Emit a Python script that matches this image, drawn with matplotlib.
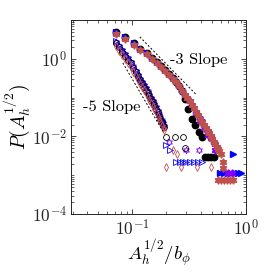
import numpy as np
import matplotlib
matplotlib.use("Agg")
import matplotlib.pyplot as plt
from matplotlib.ticker import LogLocator, NullFormatter, FixedLocator

plt.rcParams['mathtext.fontset'] = 'cm'
plt.rcParams['font.family'] = ['cmr10', 'DejaVu Serif']
plt.rcParams['axes.formatter.use_mathtext'] = True

# ---- shallow group (filled markers) ----
sh_x = [0.072, 0.087, 0.103, 0.118, 0.134, 0.149, 0.165, 0.180, 0.196, 0.212,
        0.227, 0.243, 0.258, 0.274, 0.289, 0.305, 0.320, 0.336, 0.351, 0.367,
        0.382, 0.398, 0.413, 0.429, 0.444, 0.460, 0.475, 0.490, 0.506, 0.522,
        0.537, 0.553, 0.568, 0.584, 0.600]
sh_blue = [4.8, 3.6, 2.55, 1.80, 1.40, 1.08, 0.84, 0.66, 0.52, 0.41,
           0.34, 0.27, 0.21, 0.165, 0.128, 0.105, 0.086, 0.069, 0.057, 0.046,
           0.038, 0.031, 0.026, 0.021, 0.018, 0.015, 0.0128, 0.0110, 0.0093, 0.0078,
           0.0067, 0.0057, np.nan, np.nan, np.nan]
sh_red = [4.4, 3.3, 2.35, 1.70, 1.30, 1.00, 0.78, 0.62, 0.48, 0.38,
          0.31, 0.25, 0.195, 0.152, 0.120, 0.098, 0.081, 0.065, 0.053, 0.043,
          0.035, 0.029, 0.024, 0.0198, 0.0166, 0.0140, 0.0120, 0.0103, 0.0088, 0.0074,
          0.0064, 0.0055, 0.0048, 0.0042, 0.0036]
sh_black = [5.0, 3.7, 2.6, 1.85, 1.40, 1.08, 0.83, 0.66, 0.51, 0.40,
            0.33, 0.26, 0.20, 0.150, np.nan, np.nan, np.nan, np.nan, np.nan, np.nan,
            np.nan, np.nan, np.nan, np.nan, np.nan, np.nan, np.nan, np.nan, np.nan, np.nan,
            np.nan, np.nan, np.nan, np.nan, np.nan]
blk_tail_x = [0.290, 0.310, 0.333, 0.356, 0.385, 0.408, 0.435, 0.460, 0.490, 0.520]
blk_tail_y = [0.090, 0.050, 0.028, 0.0198, 0.013, 0.0099, 0.0030, 0.0030, 0.0030, 0.0030]
red_tail_x = [0.627, 0.627, 0.567, 0.603, 0.640, 0.680, 0.723, 0.768]
red_tail_y = [0.00224, 0.00154, 0.00076, 0.00076, 0.00076, 0.00076, 0.00076, 0.00076]
blu_tail_x = [0.770, 0.590, 0.640, 0.690, 0.745, 0.800, 0.850, 0.900]
blu_tail_y = [0.0035, 0.00116, 0.00116, 0.00116, 0.00116, 0.00116, 0.00116, 0.00116]
pur_x = [0.274, 0.320, 0.367, 0.398, 0.429, 0.460, 0.490, 0.530, 0.700, 0.750]
pur_y = [0.150, 0.080, 0.040, 0.025, 0.017, 0.011, 0.0090, 0.0045, 0.00116, 0.00116]

# ---- steep group (open markers) ----
st_x = [0.072, 0.077, 0.082, 0.087, 0.092, 0.097, 0.102, 0.107, 0.112, 0.117,
        0.122, 0.127, 0.132, 0.137, 0.142, 0.147, 0.152, 0.157, 0.162, 0.167,
        0.172, 0.177, 0.182, 0.187, 0.192]
st_black = [2.55, 1.98, 1.54, 1.22, 0.96, 0.765, 0.586, 0.455, 0.357, 0.284,
            0.233, 0.194, 0.160, 0.132, 0.109, 0.0907, 0.0758, 0.0638, 0.052, 0.0418,
            0.0339, 0.028, 0.0238, 0.0203, 0.0174]
st_red = [2.1, 1.6, 1.25, 0.98, 0.78, 0.62, 0.47, 0.37, 0.29, 0.23,
          0.19, 0.157, 0.130, 0.107, 0.089, 0.074, 0.062, 0.052, 0.042, 0.034,
          0.028, 0.023, 0.0195, 0.0166, 0.0143]
st_blue = [2.9, 2.25, 1.75, 1.40, 1.10, 0.88, 0.67, 0.52, 0.41, 0.33,
           0.27, 0.225, 0.185, 0.152, 0.126, 0.105, 0.087, 0.074, 0.060, 0.048,
           0.039, 0.032, 0.027, 0.023, 0.020]
st_purple = [2.8, 2.2, 1.70, 1.34, 1.06, 0.84, 0.65, 0.50, 0.39, 0.31,
             0.255, 0.213, 0.176, 0.145, 0.120, 0.100, 0.083, 0.070, 0.057, 0.046,
             0.037, 0.031, 0.026, 0.022, 0.019]
stb_tail_x = [0.200, 0.237, 0.280, 0.290]
stb_tail_y = [0.0099, 0.0099, 0.0099, 0.0050]
str_tail_x = [0.230, 0.250, 0.198, 0.271, 0.368, 0.490]
str_tail_y = [0.0045, 0.0035, 0.00166, 0.00166, 0.00166, 0.00166]
stu_tail_x = [0.200, 0.214, 0.245, 0.262, 0.280, 0.300, 0.320, 0.350, 0.380, 0.410]
stu_tail_y = [0.0060, 0.0045, 0.00224, 0.00224, 0.00224, 0.00224, 0.00224, 0.00224, 0.00224, 0.00224]
stp_tail_x = [0.210, 0.300, 0.389]
stp_tail_y = [0.0070, 0.0045, 0.0045]

# reference slope lines
s3_x = [0.1167, 0.37]
s3_y = [3.7, 0.116]
s5_x = [0.0827, 0.186]
s5_y = [0.789, 0.0137]

BLUE = '#0000ff'
RED = '#c0504d'
PURPLE = '#8000ff'
BLACK = '#000000'

fig = plt.figure(figsize=(2.73, 2.72), dpi=100)
ax = fig.add_axes([0.260, 0.213, 0.641, 0.713])

ms = 4.2
hexa = (6, 1, 0)
# steep (open)
ax.plot(st_x, st_purple, ls='none', marker=hexa, ms=ms + 0.6, mfc='none', mec=PURPLE, mew=0.6)
ax.plot(stp_tail_x, stp_tail_y, ls='none', marker=hexa, ms=ms + 0.6, mfc='none', mec=PURPLE, mew=0.6)
ax.plot(st_x, st_blue, ls='none', marker='>', ms=ms, mfc='none', mec=BLUE, mew=0.6)
ax.plot(stu_tail_x, stu_tail_y, ls='none', marker='>', ms=ms, mfc='none', mec=BLUE, mew=0.6)
ax.plot(st_x, st_black, ls='none', marker='o', ms=ms, mfc='none', mec=BLACK, mew=0.6)
ax.plot(stb_tail_x, stb_tail_y, ls='none', marker='o', ms=ms, mfc='none', mec=BLACK, mew=0.6)
ax.plot(st_x, st_red, ls='none', marker='d', ms=ms, mfc='none', mec=RED, mew=0.6)
ax.plot(str_tail_x, str_tail_y, ls='none', marker='d', ms=ms, mfc='none', mec=RED, mew=0.6)
# shallow (filled)
ax.plot(sh_x, sh_black, ls='none', marker='o', ms=ms + 0.4, color=BLACK)
ax.plot(blk_tail_x, blk_tail_y, ls='none', marker='o', ms=ms + 0.4, color=BLACK)
ax.plot(sh_x, sh_blue, ls='none', marker='>', ms=ms + 0.4, color=BLUE)
ax.plot(blu_tail_x, blu_tail_y, ls='none', marker='>', ms=ms + 0.4, color=BLUE)
ax.plot(pur_x, pur_y, ls='none', marker=hexa, ms=ms + 1.2, color=PURPLE)
ax.plot(sh_x, sh_red, ls='none', marker=hexa, ms=ms + 1.2, color=RED)
ax.plot(red_tail_x, red_tail_y, ls='none', marker=hexa, ms=ms + 1.2, color=RED)

ax.plot(s3_x, s3_y, color='k', ls=(0, (2, 2)), lw=0.7)
ax.plot(s5_x, s5_y, color='k', ls=(0, (2, 2)), lw=0.7)

ax.text(0.214, 0.95, '-3 Slope', fontsize=11.8, ha='left', va='center')
ax.text(0.0367, 0.0577, '-5 Slope', fontsize=11.8, ha='left', va='center')

ax.set_xscale('log')
ax.set_yscale('log')
ax.set_xlim(0.029, 1.0)
ax.set_ylim(1e-4, 10)
ax.yaxis.set_major_locator(FixedLocator([1e-4, 1e-2, 1e0]))
ax.yaxis.set_minor_locator(LogLocator(base=10, subs=np.arange(1, 10)))
ax.yaxis.set_minor_formatter(NullFormatter())
ax.xaxis.set_major_locator(FixedLocator([1e-1, 1e0]))
ax.xaxis.set_minor_locator(LogLocator(base=10, subs=np.arange(2, 10)))
ax.xaxis.set_minor_formatter(NullFormatter())
ax.tick_params(which='both', direction='in', top=True, right=True, labelsize=12.5, colors='#262626')
ax.tick_params(which='major', length=3.5, width=0.6, pad=3)
ax.tick_params(which='minor', length=2, width=0.5)
for s in ax.spines.values():
    s.set_linewidth(0.7)
    s.set_color('#262626')

ax.set_xlabel(r'$A_h^{1/2}/b_\phi$', fontsize=13.5, labelpad=-1)
ax.set_ylabel(r'$P(A_h^{1/2})$', fontsize=14, labelpad=0)

fig.savefig('out.png', dpi=100)
